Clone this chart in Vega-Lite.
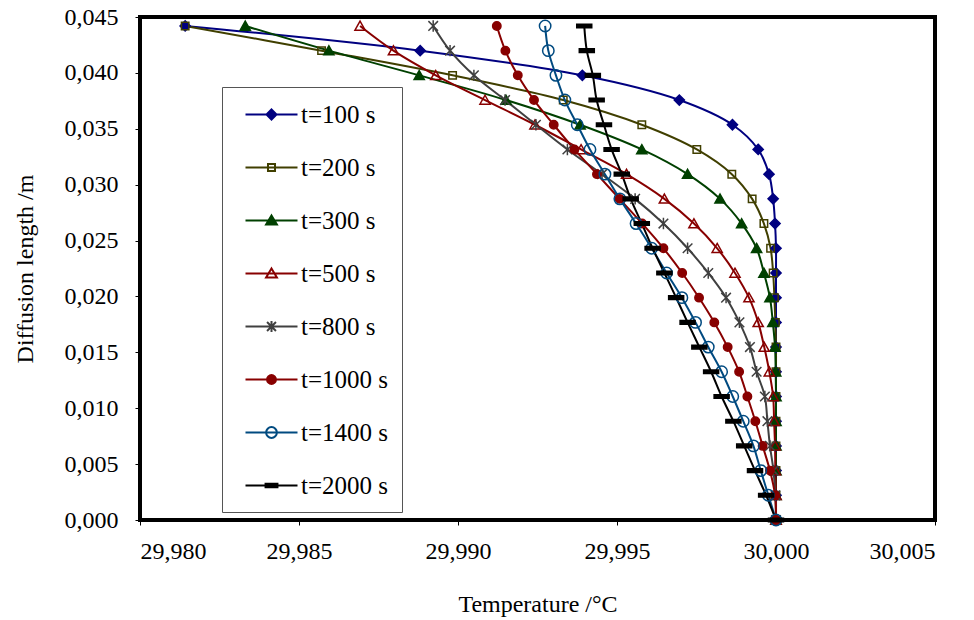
{
  "$schema": "https://vega.github.io/schema/vega-lite/v6.json",
  "width": 795,
  "height": 503,
  "autosize": "none",
  "padding": {"left": 140, "top": 17, "right": 39, "bottom": 100},
  "config": {
    "font": "Liberation Serif, Times New Roman, serif",
    "locale": {"number": {"decimal": ",", "thousands": ".", "grouping": [3], "currency": ["", " €"]}},
    "view": {"stroke": "black", "strokeWidth": 4},
    "axis": {"domain": false, "grid": false, "tickColor": "black", "tickSize": 5, "tickWidth": 1, "labelFont": "Liberation Serif, Times New Roman, serif", "labelFontSize": 24, "labelColor": "black", "titleFont": "Liberation Serif, Times New Roman, serif", "titleFontSize": 24, "titleFontWeight": "normal", "titleColor": "black"}
  },
  "data": {"values": [
    {"s":"t=100 s","y":0,"T":30.0},{"s":"t=100 s","y":0.00221,"T":30.0},{"s":"t=100 s","y":0.00442,"T":30.0},{"s":"t=100 s","y":0.00663,"T":30.0},{"s":"t=100 s","y":0.00884,"T":30.0},{"s":"t=100 s","y":0.01105,"T":30.0},{"s":"t=100 s","y":0.01326,"T":30.0},{"s":"t=100 s","y":0.01547,"T":30.0},{"s":"t=100 s","y":0.01768,"T":30.0},{"s":"t=100 s","y":0.01989,"T":30.0},{"s":"t=100 s","y":0.0221,"T":30.0},{"s":"t=100 s","y":0.02431,"T":30.0},{"s":"t=100 s","y":0.02652,"T":29.99997},{"s":"t=100 s","y":0.02873,"T":29.99991},{"s":"t=100 s","y":0.03094,"T":29.99978},{"s":"t=100 s","y":0.03315,"T":29.99944},{"s":"t=100 s","y":0.03536,"T":29.99863},{"s":"t=100 s","y":0.03757,"T":29.99696},{"s":"t=100 s","y":0.03978,"T":29.99391},{"s":"t=100 s","y":0.04199,"T":29.98881},{"s":"t=100 s","y":0.0442,"T":29.98142},
    {"s":"t=200 s","y":0,"T":30.0},{"s":"t=200 s","y":0.00221,"T":30.0},{"s":"t=200 s","y":0.00442,"T":30.0},{"s":"t=200 s","y":0.00663,"T":30.0},{"s":"t=200 s","y":0.00884,"T":30.0},{"s":"t=200 s","y":0.01105,"T":30.0},{"s":"t=200 s","y":0.01326,"T":30.0},{"s":"t=200 s","y":0.01547,"T":30.0},{"s":"t=200 s","y":0.01768,"T":29.99998},{"s":"t=200 s","y":0.01989,"T":29.99995},{"s":"t=200 s","y":0.0221,"T":29.99991},{"s":"t=200 s","y":0.02431,"T":29.99983},{"s":"t=200 s","y":0.02652,"T":29.99962},{"s":"t=200 s","y":0.02873,"T":29.99925},{"s":"t=200 s","y":0.03094,"T":29.99861},{"s":"t=200 s","y":0.03315,"T":29.99751},{"s":"t=200 s","y":0.03536,"T":29.99578},{"s":"t=200 s","y":0.03757,"T":29.99331},{"s":"t=200 s","y":0.03978,"T":29.98983},{"s":"t=200 s","y":0.04199,"T":29.98571},{"s":"t=200 s","y":0.0442,"T":29.98142},
    {"s":"t=300 s","y":0,"T":30.0},{"s":"t=300 s","y":0.00221,"T":30.0},{"s":"t=300 s","y":0.00442,"T":30.0},{"s":"t=300 s","y":0.00663,"T":30.0},{"s":"t=300 s","y":0.00884,"T":30.0},{"s":"t=300 s","y":0.01105,"T":30.0},{"s":"t=300 s","y":0.01326,"T":29.99999},{"s":"t=300 s","y":0.01547,"T":29.99997},{"s":"t=300 s","y":0.01768,"T":29.9999},{"s":"t=300 s","y":0.01989,"T":29.99981},{"s":"t=300 s","y":0.0221,"T":29.99962},{"s":"t=300 s","y":0.02431,"T":29.99939},{"s":"t=300 s","y":0.02652,"T":29.99892},{"s":"t=300 s","y":0.02873,"T":29.99824},{"s":"t=300 s","y":0.03094,"T":29.99722},{"s":"t=300 s","y":0.03315,"T":29.99578},{"s":"t=300 s","y":0.03536,"T":29.99384},{"s":"t=300 s","y":0.03757,"T":29.99151},{"s":"t=300 s","y":0.03978,"T":29.98878},{"s":"t=300 s","y":0.04199,"T":29.98594},{"s":"t=300 s","y":0.0442,"T":29.98331},
    {"s":"t=500 s","y":0,"T":30.0},{"s":"t=500 s","y":0.00221,"T":30.0},{"s":"t=500 s","y":0.00442,"T":29.99998},{"s":"t=500 s","y":0.00663,"T":29.99997},{"s":"t=500 s","y":0.00884,"T":29.99994},{"s":"t=500 s","y":0.01105,"T":29.99991},{"s":"t=500 s","y":0.01326,"T":29.99979},{"s":"t=500 s","y":0.01547,"T":29.99963},{"s":"t=500 s","y":0.01768,"T":29.99944},{"s":"t=500 s","y":0.01989,"T":29.99915},{"s":"t=500 s","y":0.0221,"T":29.99871},{"s":"t=500 s","y":0.02431,"T":29.99815},{"s":"t=500 s","y":0.02652,"T":29.99742},{"s":"t=500 s","y":0.02873,"T":29.99649},{"s":"t=500 s","y":0.03094,"T":29.9953},{"s":"t=500 s","y":0.03315,"T":29.99387},{"s":"t=500 s","y":0.03536,"T":29.99242},{"s":"t=500 s","y":0.03757,"T":29.99085},{"s":"t=500 s","y":0.03978,"T":29.9893},{"s":"t=500 s","y":0.04199,"T":29.98797},{"s":"t=500 s","y":0.0442,"T":29.98692},
    {"s":"t=800 s","y":0,"T":30.0},{"s":"t=800 s","y":0.00221,"T":29.99998},{"s":"t=800 s","y":0.00442,"T":29.99992},{"s":"t=800 s","y":0.00663,"T":29.99981},{"s":"t=800 s","y":0.00884,"T":29.99973},{"s":"t=800 s","y":0.01105,"T":29.99965},{"s":"t=800 s","y":0.01326,"T":29.99939},{"s":"t=800 s","y":0.01547,"T":29.99918},{"s":"t=800 s","y":0.01768,"T":29.99885},{"s":"t=800 s","y":0.01989,"T":29.99843},{"s":"t=800 s","y":0.0221,"T":29.99787},{"s":"t=800 s","y":0.02431,"T":29.99722},{"s":"t=800 s","y":0.02652,"T":29.99646},{"s":"t=800 s","y":0.02873,"T":29.99557},{"s":"t=800 s","y":0.03094,"T":29.99453},{"s":"t=800 s","y":0.03315,"T":29.99344},{"s":"t=800 s","y":0.03536,"T":29.99245},{"s":"t=800 s","y":0.03757,"T":29.99148},{"s":"t=800 s","y":0.03978,"T":29.9905},{"s":"t=800 s","y":0.04199,"T":29.98975},{"s":"t=800 s","y":0.0442,"T":29.98922},
    {"s":"t=1000 s","y":0,"T":30.0},{"s":"t=1000 s","y":0.00221,"T":29.99997},{"s":"t=1000 s","y":0.00442,"T":29.99981},{"s":"t=1000 s","y":0.00663,"T":29.99958},{"s":"t=1000 s","y":0.00884,"T":29.99935},{"s":"t=1000 s","y":0.01105,"T":29.9991},{"s":"t=1000 s","y":0.01326,"T":29.99884},{"s":"t=1000 s","y":0.01547,"T":29.99848},{"s":"t=1000 s","y":0.01768,"T":29.99806},{"s":"t=1000 s","y":0.01989,"T":29.99758},{"s":"t=1000 s","y":0.0221,"T":29.99705},{"s":"t=1000 s","y":0.02431,"T":29.99646},{"s":"t=1000 s","y":0.02652,"T":29.99579},{"s":"t=1000 s","y":0.02873,"T":29.99508},{"s":"t=1000 s","y":0.03094,"T":29.99437},{"s":"t=1000 s","y":0.03315,"T":29.99366},{"s":"t=1000 s","y":0.03536,"T":29.99301},{"s":"t=1000 s","y":0.03757,"T":29.99239},{"s":"t=1000 s","y":0.03978,"T":29.99188},{"s":"t=1000 s","y":0.04199,"T":29.99149},{"s":"t=1000 s","y":0.0442,"T":29.99122},
    {"s":"t=1400 s","y":0,"T":30.0},{"s":"t=1400 s","y":0.00221,"T":29.99976},{"s":"t=1400 s","y":0.00442,"T":29.99952},{"s":"t=1400 s","y":0.00663,"T":29.99929},{"s":"t=1400 s","y":0.00884,"T":29.99897},{"s":"t=1400 s","y":0.01105,"T":29.99864},{"s":"t=1400 s","y":0.01326,"T":29.99829},{"s":"t=1400 s","y":0.01547,"T":29.99787},{"s":"t=1400 s","y":0.01768,"T":29.99747},{"s":"t=1400 s","y":0.01989,"T":29.99704},{"s":"t=1400 s","y":0.0221,"T":29.99656},{"s":"t=1400 s","y":0.02431,"T":29.99609},{"s":"t=1400 s","y":0.02652,"T":29.9956},{"s":"t=1400 s","y":0.02873,"T":29.99509},{"s":"t=1400 s","y":0.03094,"T":29.99462},{"s":"t=1400 s","y":0.03315,"T":29.99415},{"s":"t=1400 s","y":0.03536,"T":29.99375},{"s":"t=1400 s","y":0.03757,"T":29.99336},{"s":"t=1400 s","y":0.03978,"T":29.99308},{"s":"t=1400 s","y":0.04199,"T":29.99284},{"s":"t=1400 s","y":0.0442,"T":29.99274},
    {"s":"t=2000 s","y":0,"T":30.0},{"s":"t=2000 s","y":0.00221,"T":29.99969},{"s":"t=2000 s","y":0.00442,"T":29.99934},{"s":"t=2000 s","y":0.00663,"T":29.999},{"s":"t=2000 s","y":0.00884,"T":29.99866},{"s":"t=2000 s","y":0.01105,"T":29.99829},{"s":"t=2000 s","y":0.01326,"T":29.99796},{"s":"t=2000 s","y":0.01547,"T":29.99759},{"s":"t=2000 s","y":0.01768,"T":29.99722},{"s":"t=2000 s","y":0.01989,"T":29.99686},{"s":"t=2000 s","y":0.0221,"T":29.99649},{"s":"t=2000 s","y":0.02431,"T":29.99612},{"s":"t=2000 s","y":0.02652,"T":29.99578},{"s":"t=2000 s","y":0.02873,"T":29.99543},{"s":"t=2000 s","y":0.03094,"T":29.99515},{"s":"t=2000 s","y":0.03315,"T":29.99483},{"s":"t=2000 s","y":0.03536,"T":29.99459},{"s":"t=2000 s","y":0.03757,"T":29.99436},{"s":"t=2000 s","y":0.03978,"T":29.99424},{"s":"t=2000 s","y":0.04199,"T":29.99405},{"s":"t=2000 s","y":0.0442,"T":29.99397}
  ]},
  "encoding": {
    "x": {"field": "T", "type": "quantitative", "scale": {"domain": [29.98, 30.005], "nice": false, "zero": false},
      "axis": {"values": [29.98, 29.985, 29.99, 29.995, 30, 30.005], "format": ".3f", "title": "Temperature /°C", "labelPadding": 14, "titlePadding": 29}},
    "y": {"field": "y", "type": "quantitative", "scale": {"domain": [0, 0.045], "nice": false},
      "axis": {"values": [0, 0.005, 0.01, 0.015, 0.02, 0.025, 0.03, 0.035, 0.04, 0.045], "format": ".3f", "title": "Diffusion length /m", "labelPadding": 17, "titlePadding": 27}}
  },
  "layer": [
    {
      "mark": {"type": "line", "strokeWidth": 2, "interpolate": "catmull-rom"},
      "encoding": {
        "color": {"field": "s", "type": "nominal",
          "scale": {"domain": ["t=100 s","t=200 s","t=300 s","t=500 s","t=800 s","t=1000 s","t=1400 s","t=2000 s"],
                    "range": ["#000080","#403F00","#004000","#880000","#404040","#880000","#004A80","#000000"]},
          "legend": null},
        "order": {"field": "y", "type": "quantitative"}
      }
    },
    {
      "mark": {"type": "point", "size": 144, "strokeWidth": 1.5, "opacity": 1},
      "encoding": {
        "shape": {"field": "s", "type": "nominal", "legend": null,
          "scale": {"domain": ["t=100 s","t=200 s","t=300 s","t=500 s","t=800 s","t=1000 s","t=1400 s","t=2000 s"],
                    "range": [
                      "M0,-0.85L0.85,0L0,0.85L-0.85,0Z",
                      "M-0.62,-0.62L0.62,-0.62L0.62,0.62L-0.62,0.62Z",
                      "M0,-0.8L0.85,0.7L-0.85,0.7Z",
                      "M0,-0.8L0.85,0.7L-0.85,0.7Z",
                      "M0,-0.95L0,0.95M-0.8,-0.8L0.8,0.8M-0.8,0.8L0.8,-0.8",
                      "M0.7,0C0.7,0.387,0.387,0.7,0,0.7C-0.387,0.7,-0.7,0.387,-0.7,0C-0.7,-0.387,-0.387,-0.7,0,-0.7C0.387,-0.7,0.7,-0.387,0.7,0Z",
                      "M0.95,0C0.95,0.525,0.525,0.95,0,0.95C-0.525,0.95,-0.95,0.525,-0.95,0C-0.95,-0.525,-0.525,-0.95,0,-0.95C0.525,-0.95,0.95,-0.525,0.95,0Z",
                      "M-1.25,-0.3L1.25,-0.3L1.25,0.3L-1.25,0.3Z"
                    ]}},
        "fill": {"field": "s", "type": "nominal", "legend": null,
          "scale": {"domain": ["t=100 s","t=200 s","t=300 s","t=500 s","t=800 s","t=1000 s","t=1400 s","t=2000 s"],
                    "range": ["#000080","transparent","#004000","transparent","transparent","#880000","transparent","#000000"]}},
        "stroke": {"field": "s", "type": "nominal", "legend": null,
          "scale": {"domain": ["t=100 s","t=200 s","t=300 s","t=500 s","t=800 s","t=1000 s","t=1400 s","t=2000 s"],
                    "range": ["#000080","#403F00","#004000","#880000","#404040","#880000","#004A80","#000000"]}}
      }
    },
    {
      "mark": {"type": "point", "size": 729, "strokeWidth": 2, "opacity": 0},
      "encoding": {
        "shape": {"field": "s", "type": "nominal",
          "legend": {"orient": "none", "legendX": 82, "legendY": 70, "title": null, "padding": 13, "symbolSize": 729, "symbolOffset": 22, "symbolStrokeWidth": 2, "symbolOpacity": 1, "labelOffset": 15, "labelFontSize": 25, "labelFont": "Liberation Serif, Times New Roman, serif", "labelColor": "black", "rowPadding": 25, "strokeColor": "#555555", "fillColor": "white", "labelLimit": 0},
          "scale": {"domain": ["t=100 s","t=200 s","t=300 s","t=500 s","t=800 s","t=1000 s","t=1400 s","t=2000 s"],
                    "range": [
                      "M-1.926,0L1.926,0M0,-0.37L0.37,0L0,0.37L-0.37,0Z",
                      "M-1.926,0L1.926,0M-0.26,-0.26L0.26,-0.26L0.26,0.26L-0.26,0.26Z",
                      "M-1.926,0L1.926,0M0,-0.37L0.4,0.3L-0.4,0.3Z",
                      "M-1.926,0L1.926,0M0,-0.37L0.4,0.3L-0.4,0.3Z",
                      "M-1.926,0L1.926,0M0,-0.4L0,0.4M-0.33,-0.33L0.33,0.33M-0.33,0.33L0.33,-0.33",
                      "M-1.926,0L1.926,0M0.33,0C0.33,0.182,0.182,0.33,0,0.33C-0.182,0.33,-0.33,0.182,-0.33,0C-0.33,-0.182,-0.182,-0.33,0,-0.33C0.182,-0.33,0.33,-0.182,0.33,0Z",
                      "M-1.926,0L1.926,0M0.4,0C0.4,0.22,0.22,0.4,0,0.4C-0.22,0.4,-0.4,0.22,-0.4,0C-0.4,-0.22,-0.22,-0.4,0,-0.4C0.22,-0.4,0.4,-0.22,0.4,0Z",
                      "M-1.926,0L1.926,0M-0.44,-0.13L0.44,-0.13L0.44,0.13L-0.44,0.13Z"
                    ]}},
        "fill": {"field": "s", "type": "nominal",
          "legend": {"orient": "none", "legendX": 82, "legendY": 70, "title": null, "padding": 13, "symbolSize": 729, "symbolOffset": 22, "symbolStrokeWidth": 2, "symbolOpacity": 1, "labelOffset": 15, "labelFontSize": 25, "labelFont": "Liberation Serif, Times New Roman, serif", "labelColor": "black", "rowPadding": 25, "strokeColor": "#555555", "fillColor": "white", "labelLimit": 0},
          "scale": {"domain": ["t=100 s","t=200 s","t=300 s","t=500 s","t=800 s","t=1000 s","t=1400 s","t=2000 s"],
                    "range": ["#000080","transparent","#004000","transparent","transparent","#880000","transparent","#000000"]}},
        "stroke": {"field": "s", "type": "nominal",
          "legend": {"orient": "none", "legendX": 82, "legendY": 70, "title": null, "padding": 13, "symbolSize": 729, "symbolOffset": 22, "symbolStrokeWidth": 2, "symbolOpacity": 1, "labelOffset": 15, "labelFontSize": 25, "labelFont": "Liberation Serif, Times New Roman, serif", "labelColor": "black", "rowPadding": 25, "strokeColor": "#555555", "fillColor": "white", "labelLimit": 0},
          "scale": {"domain": ["t=100 s","t=200 s","t=300 s","t=500 s","t=800 s","t=1000 s","t=1400 s","t=2000 s"],
                    "range": ["#000080","#403F00","#004000","#880000","#404040","#880000","#004A80","#000000"]}}
      }
    }
  ],
  "resolve": {"scale": {"shape": "independent", "fill": "independent", "stroke": "independent"}}
}
